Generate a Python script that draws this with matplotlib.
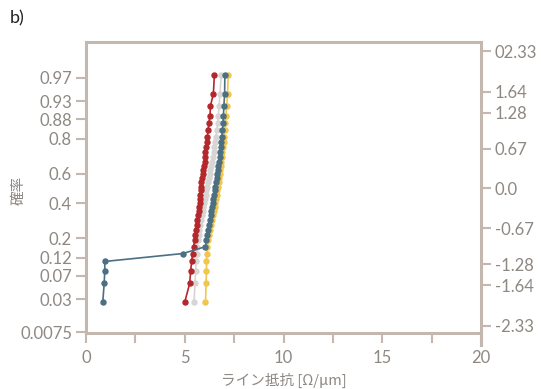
import matplotlib
matplotlib.use("Agg")
import matplotlib.pyplot as plt
from statistics import NormalDist

nd = NormalDist()

# ---- data ----
n_points = 36
ranks = list(range(1, n_points + 1))
prob = [r / (n_points + 1) for r in ranks]          # plotting positions

red_x = [5.0, 5.25, 5.3, 5.35, 5.4, 5.45, 5.5, 5.54, 5.57, 5.6, 5.64, 5.67,
         5.7, 5.72, 5.75, 5.77, 5.78, 5.8, 5.82, 5.84, 5.86, 5.9, 5.94, 5.97,
         6.0, 6.02, 6.05, 6.08, 6.12, 6.15, 6.18, 6.22, 6.28, 6.3, 6.45, 6.5]
gray_x = [5.47, 5.52, 5.55, 5.58, 5.6, 5.63, 5.66, 5.7, 5.74, 5.78, 5.82, 5.86,
          5.9, 5.94, 5.98, 6.02, 6.06, 6.1, 6.14, 6.18, 6.22, 6.26, 6.3, 6.34,
          6.38, 6.42, 6.46, 6.5, 6.54, 6.58, 6.62, 6.66, 6.7, 6.74, 6.78, 6.85]
yellow_x = [6.05, 6.08, 6.1, 6.1, 6.12, 6.15, 6.2, 6.25, 6.3, 6.35, 6.4, 6.44,
            6.48, 6.52, 6.55, 6.59, 6.62, 6.65, 6.68, 6.71, 6.74, 6.77, 6.8, 6.83,
            6.86, 6.88, 6.91, 6.94, 6.97, 7.0, 7.03, 7.06, 7.09, 7.12, 7.17, 7.2]
blue_x = [0.85, 0.92, 0.95, 0.95, 4.9, 6.05, 6.1, 6.15, 6.2, 6.24, 6.28, 6.32,
          6.35, 6.38, 6.41, 6.45, 6.49, 6.52, 6.55, 6.58, 6.61, 6.64, 6.67, 6.7,
          6.73, 6.76, 6.79, 6.82, 6.85, 6.88, 6.91, 6.94, 6.96, 6.98, 7.02, 7.03]

left_ticks = [0.0075, 0.03, 0.07, 0.12, 0.2, 0.4, 0.6, 0.8, 0.88, 0.93, 0.97]
left_labels = ["0.0075", "0.03", "0.07", "0.12", "0.2", "0.4", "0.6", "0.8", "0.88", "0.93", "0.97"]
right_ticks = [-2.33, -1.64, -1.28, -0.67, 0.0, 0.67, 1.28, 1.64, 2.33]
right_labels = ["-2.33", "-1.64", "-1.28", "-0.67", "0.0", "0.67", "1.28", "1.64", "02.33"]
x_ticks = [0, 5, 10, 15, 20]
x_minor = [2.5, 7.5, 12.5, 17.5]

# ---- style ----
spine_c = "#c3b7af"
text_c = "#8e8883"
plt.rcParams['font.family'] = ['Lato', 'Noto Sans CJK JP', 'DejaVu Sans']

W, H = 541, 389
fig = plt.figure(figsize=(W / 100, H / 100), dpi=100)

px_l, px_r, px_t, px_b, px_b2 = 86, 481, 42, 333, 345
center, scale = 188.5, 59.0
zt = (center - px_t) / scale
zb = -(px_b - center) / scale
zb2 = -(px_b2 - center) / scale

ax = fig.add_axes([px_l / W, 1 - px_b / H, (px_r - px_l) / W, (px_b - px_t) / H])
ax2 = fig.add_axes([px_l / W, 1 - px_b2 / H, (px_r - px_l) / W, (px_b2 - px_t) / H])
ax2.patch.set_alpha(0)

z = [nd.inv_cdf(p) for p in prob]
series = [(gray_x, "#d8d6d4"), (red_x, "#b3282c"), (yellow_x, "#f1c64a"), (blue_x, "#4d6f82")]
for xs, c in series:
    ax.plot(xs, z, color=c, lw=1.2, marker="o", ms=3.6, mec=c, mfc=c, zorder=3)

ax.set_xlim(0, 20)
ax.set_ylim(zb, zt)
ax.set_xticks(x_ticks)
ax.set_xticks(x_minor, minor=True)
ax.set_yticks([nd.inv_cdf(p) for p in left_ticks])
ax.set_yticklabels(left_labels)
for s in ["left", "bottom", "top"]:
    ax.spines[s].set_color(spine_c)
    ax.spines[s].set_linewidth(2.2)
ax.spines["right"].set_visible(False)
ax.tick_params(axis="both", which="both", color=spine_c, width=1.5, length=7,
               labelcolor=text_c, labelsize=12, pad=3)
ax.tick_params(axis="x", pad=5)
ax.set_xlabel("ライン抵抗 [Ω/μm]", color=text_c, fontsize=10.5, labelpad=5,
              family=['Noto Sans CJK JP', 'DejaVu Sans'])
fig.text(19 / W, 1 - 190 / H, "確率", rotation=90, color=text_c, fontsize=10.5,
         ha="center", va="center", family=['Noto Sans CJK JP'])

ax2.set_xlim(0, 20)
ax2.set_ylim(zb2, zt)
for s in ["left", "bottom", "top"]:
    ax2.spines[s].set_visible(False)
ax2.spines["right"].set_color(spine_c)
ax2.spines["right"].set_linewidth(2.2)
ax2.set_xticks([])
ax2.yaxis.tick_right()
ax2.set_yticks(right_ticks)
ax2.set_yticklabels(right_labels)
ax2.tick_params(axis="y", color=spine_c, width=1.5, length=7, labelcolor=text_c,
                labelsize=12, pad=3)

fig.text(10 / W, 1 - 18 / H, "b)", color="#222222", fontsize=13, ha="left", va="center")

fig.savefig("out.png", dpi=100)
